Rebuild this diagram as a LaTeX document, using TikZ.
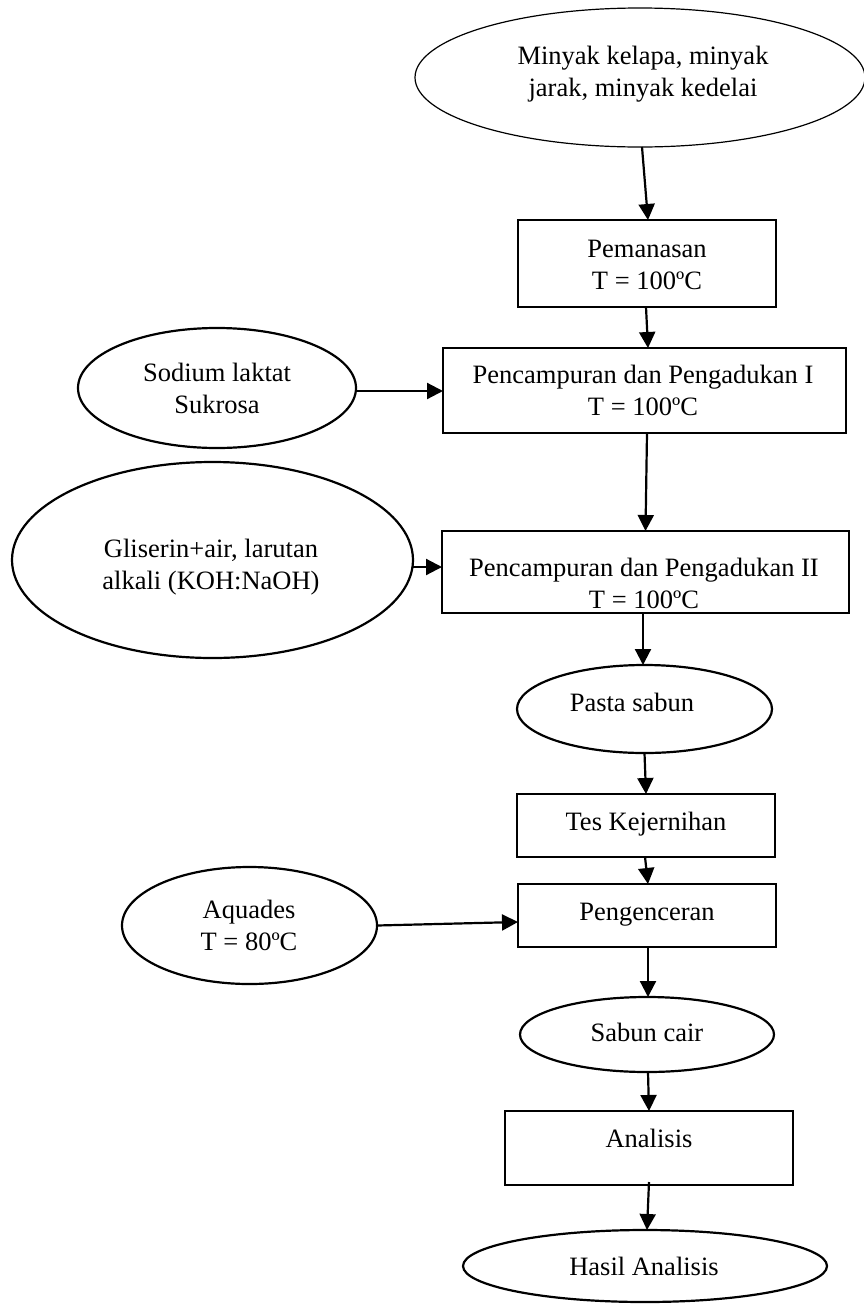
\documentclass[tikz,border=0pt]{standalone}
\usepackage{fontspec}
\setmainfont{Liberation Serif}
\usetikzlibrary{shapes.geometric,arrows.meta}
\begin{document}
\begin{tikzpicture}[x=1pt,y=-1pt,
  every node/.style={font=\fontsize{26.5}{32}\selectfont},
  boxnode/.style={draw, line width=2.2pt, rectangle, inner sep=0pt, outer sep=0pt},
  ellnode/.style={draw, line width=2.2pt, ellipse, inner sep=0pt, outer sep=0pt},
  txt/.style={inner sep=0pt, align=center},
  arr/.style={line width=2.2pt, -{Triangle[length=16pt,width=16pt]}}]
\useasboundingbox (0,0) rectangle (864,1304);

% shapes
\node[ellnode, line width=1.2pt, minimum width=450pt, minimum height=139pt] (oil) at (640,77.5) {};
\node[boxnode, minimum width=258pt, minimum height=87pt] (pem) at (647,263.5) {};
\node[boxnode, minimum width=403pt, minimum height=85pt] (box2) at (644.5,390.5) {};
\node[ellnode, minimum width=278pt, minimum height=120pt] (sod) at (217,388) {};
\node[boxnode, minimum width=407pt, minimum height=82pt] (box3) at (645.5,572) {};
\node[ellnode, minimum width=401pt, minimum height=196pt] (gli) at (212.5,560) {};
\node[ellnode, minimum width=255pt, minimum height=88pt] (pasta) at (644.5,709) {};
\node[boxnode, minimum width=258pt, minimum height=63pt] (tes) at (646,825.5) {};
\node[boxnode, minimum width=258pt, minimum height=63pt] (peng) at (647,915.5) {};
\node[ellnode, minimum width=255pt, minimum height=117pt] (aq) at (249.5,925.5) {};
\node[ellnode, minimum width=254pt, minimum height=75pt] (sabun) at (647,1034.5) {};
\node[boxnode, minimum width=288pt, minimum height=74pt] (anal) at (649,1148) {};
\node[ellnode, minimum width=364pt, minimum height=72pt] (hasil) at (645,1266) {};

% texts
\node[txt] (toil) at (643,74) {Minyak kelapa, minyak\\jarak, minyak kedelai};
\node[txt] (tpem) at (647,265) {Pemanasan\\ T = 100ºC};
\node[txt] (tbox2) at (643,390) {Pencampuran dan Pengadukan I\\T = 100ºC};
\node[txt] (tsod) at (217,388) {Sodium laktat\\Sukrosa};
\node[txt] (tbox3) at (644,583) {Pencampuran dan Pengadukan II\\T = 100ºC};
\node[txt] (tgli) at (211,567) {Gliserin+air, larutan\\alkali (KOH:NaOH)};
\node[txt] (tpasta) at (632,702) {Pasta sabun};
\node[txt] (ttes) at (646,824) {Tes Kejernihan};
\node[txt] (tpeng) at (647,915) {Pengenceran};
\node[txt] (taq) at (249,925) {Aquades\\T = 80ºC};
\node[txt] (tsabun) at (647,1032) {Sabun cair};
\node[txt] (tanal) at (649,1138) {Analisis};
\node[txt] (thasil) at (644,1266) {Hasil Analisis};

% connectors
\draw[arr] ([xshift=2pt]oil.south) -- ([xshift=1pt]pem.north);
\draw[arr] ([xshift=-1pt]pem.south) -- ([xshift=3.5pt]box2.north);
\draw[arr] ([yshift=-3pt]sod.east) -- ([yshift=-3pt]sod.east -| box2.west);
\draw[arr] ([xshift=2.5pt]box2.south) -- (box3.north);
\draw[arr] ([yshift=-7pt]gli.east) -- ([yshift=-7pt]gli.east -| box3.west);
\draw[arr] ([xshift=-2.5pt]box3.south) -- ([xshift=-1.5pt]pasta.north);
\draw[arr] (pasta.south) -- (tes.north);
\draw[arr] ([xshift=-1pt]tes.south) -- ([xshift=1pt]peng.north);
\draw[arr] (aq.east) -- ([yshift=-6.5pt]peng.west);
\draw[arr] ([xshift=1pt]peng.south) -- ([xshift=1pt]sabun.north);
\draw[arr] ([xshift=1pt]sabun.south) -- (anal.north);
\draw[arr] ([yshift=3pt]anal.south) -- ([xshift=2pt]hasil.north);
\end{tikzpicture}
\end{document}
